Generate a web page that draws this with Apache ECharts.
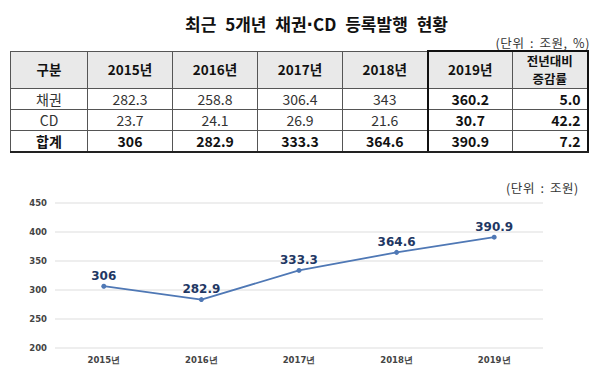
<!DOCTYPE html>
<html>
<head>
<meta charset="utf-8">
<script src="https://cdn.jsdelivr.net/npm/echarts@6/dist/echarts.min.js"></script>
<style>
  html, body { margin: 0; padding: 0; background: #fff; }
  body { width: 600px; height: 372px; position: relative; overflow: hidden; font-family: "Noto Sans CJK KR", "Noto Sans", sans-serif; }
  #title { position: absolute; left: 185px; top: 11px; font-size: 17px; font-weight: bold; color: #111; white-space: nowrap; word-spacing: 5px; }
  #title .dot { font-family: "DejaVu Sans"; letter-spacing: 0; }
  #unit1 { position: absolute; right: 10px; top: 33px; font-size: 12.5px; color: #333; white-space: nowrap; letter-spacing: 0.6px; word-spacing: 2px; }
  #tbl { position: absolute; left: 10px; top: 50px; border-collapse: collapse; table-layout: fixed; }
  #tbl td { border: 1px solid #555; padding: 0; text-align: center; font-size: 14px; color: #333; line-height: 1; overflow: hidden; white-space: nowrap; }
  #tbl tr.head td { background: #e9e9e9; font-weight: bold; font-size: 13.5px; color: #111; height: 36px; }
  #tbl tr.r td { height: 20px; }
  #tbl tr.sum td { font-weight: bold; color: #111; height: 20px; }
  #tbl td.b { font-weight: bold; color: #111; }
  #tbl td.rt { text-align: right; padding-right: 6px; }
  #tbl td.box { border-left: 2px solid #111; }
  #tbl td.boxr { border-right: 2px solid #111; }
  #tbl tr.head td.box, #tbl tr.head td.boxr { border-top: 2px solid #111; }
  #tbl tr.sum td { border-bottom: 2px solid #222; }
  #tbl tr.head td.two { font-size: 12.5px; line-height: 18.2px; }
  #tbl tr.head td.two div { height: 18.2px; }
  #unit2 { position: absolute; left: 506px; top: 178px; font-size: 12.5px; color: #333; white-space: nowrap; letter-spacing: 0.6px; word-spacing: 2px; }
  #chart { position: absolute; left: 0; top: 160px; width: 600px; height: 212px; }
</style>
</head>
<body>
<div id="title">최근 5개년 채권<span class="dot">·</span>CD 등록발행 현황</div>
<div id="unit1">(단위 : 조원, %)</div>
<table id="tbl"></table>
<div id="chart"></div>
<div id="unit2">(단위 : 조원)</div>
<script>
// ---- data ----
const years = ['2015년', '2016년', '2017년', '2018년', '2019년'];
const rowLabels = ['채권', 'CD', '합계'];
const bonds = [282.3, 258.8, 306.4, 343, 360.2];
const cd = [23.7, 24.1, 26.9, 21.6, 30.7];
const total = [306, 282.9, 333.3, 364.6, 390.9];
const yoyChange = [5.0, 42.2, 7.2];
const changeHeader = ['전년대비', '증감률'];
const firstHeader = '구분';
const yTicks = [200, 250, 300, 350, 400, 450];

// ---- table ----
const colW = [77, 85, 85, 85, 85, 85, 75];
const tbl = document.getElementById('tbl');
const cg = document.createElement('colgroup');
colW.forEach(w => { const c = document.createElement('col'); c.style.width = w + 'px'; cg.appendChild(c); });
tbl.appendChild(cg);
function addRow(cls, cells) {
  const tr = document.createElement('tr');
  tr.className = cls;
  cells.forEach(([html, c]) => {
    const td = document.createElement('td');
    td.innerHTML = html;
    if (c) td.className = c;
    tr.appendChild(td);
  });
  tbl.appendChild(tr);
}
const headCells = [[firstHeader, '']];
years.forEach((y, i) => headCells.push([y, i === years.length - 1 ? 'box' : '']));
headCells.push([changeHeader.map(t => '<div>' + t + '</div>').join(''), 'two boxr']);
addRow('head', headCells);
[bonds, cd, total].forEach((arr, r) => {
  const cells = [[rowLabels[r], r === 2 ? 'b' : '']];
  arr.forEach((v, i) => cells.push([String(v), i === arr.length - 1 ? 'b box' : '']));
  cells.push([yoyChange[r].toFixed(1), 'b rt boxr']);
  addRow(r === 2 ? 'sum' : 'r', cells);
});

// ---- chart ----
const chart = echarts.init(document.getElementById('chart'), null, { renderer: 'svg' });
chart.setOption({
  animation: false,
  grid: { left: 55, right: 57, top: 43, bottom: 24.5, containLabel: false },
  xAxis: {
    type: 'category',
    data: years,
    boundaryGap: true,
    axisLine: { show: false },
    axisTick: { show: false },
    axisLabel: { color: '#444', fontSize: 8.5, fontWeight: 'bold', fontFamily: 'DejaVu Sans', margin: 8 }
  },
  yAxis: {
    type: 'value',
    min: yTicks[0],
    max: yTicks[yTicks.length - 1],
    interval: 50,
    axisLine: { show: false },
    axisTick: { show: false },
    axisLabel: { color: '#444', fontSize: 8.5, fontWeight: 'bold', fontFamily: 'DejaVu Sans', margin: 8 },
    splitLine: { lineStyle: { color: '#e8e8e8', width: 1.5 } }
  },
  series: [{
    type: 'line',
    data: total,
    symbol: 'circle',
    symbolSize: 5,
    lineStyle: { color: '#4f78b5', width: 1.8 },
    itemStyle: { color: '#4f78b5' },
    label: {
      show: true,
      position: 'top',
      distance: 2,
      color: '#1f3864',
      fontSize: 12,
      fontWeight: 'bold',
      fontFamily: 'DejaVu Sans'
    }
  }]
});
</script>
</body>
</html>
